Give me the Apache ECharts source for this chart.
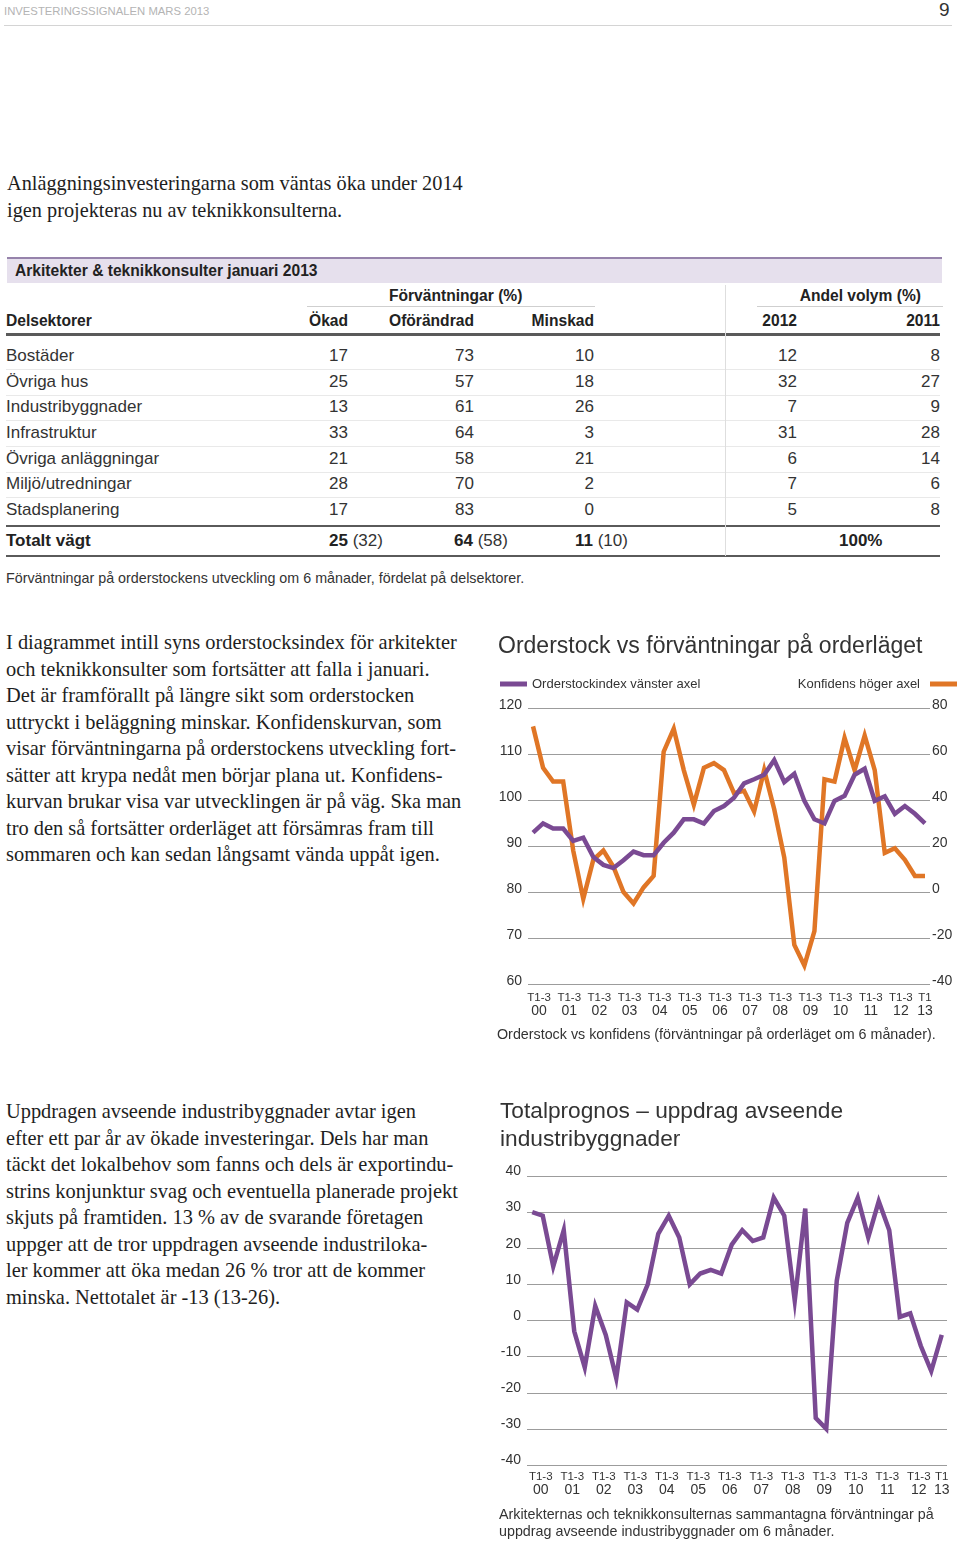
<!DOCTYPE html>
<html><head><meta charset="utf-8">
<script src="https://cdn.jsdelivr.net/npm/echarts@6/dist/echarts.min.js"></script>
<style>
html,body{margin:0;padding:0;background:#fff;}
body{width:960px;height:1541px;position:relative;overflow:hidden;font-family:'Liberation Sans',Arial,sans-serif;color:#333;}
.a{position:absolute;white-space:nowrap;}
.serif{font-family:'Liberation Serif','Times New Roman',serif;color:#1e1e1e;}
.ln{position:absolute;}
.chart{position:absolute;}
</style></head><body>
<div class="a" style="left:4px;top:4px;font-size:11.3px;line-height:14px;color:#b4b4b4;">INVESTERINGSSIGNALEN MARS 2013</div>
<div class="a" style="left:939px;top:-1px;font-size:19px;line-height:22px;color:#333;">9</div>
<div class="ln" style="left:4px;top:25px;width:948px;height:1px;background:#d4d4d4;"></div>

<div class="a serif" style="left:7px;top:170px;font-size:20.3px;line-height:27px;">Anläggningsinvesteringarna som väntas öka under 2014<br>igen projekteras nu av teknikkonsulterna.</div>

<div id="tbl"></div>

<div class="a serif" style="left:6px;top:629px;font-size:20.4px;line-height:26.5px;">I diagrammet intill syns orderstocksindex för arkitekter<br>och teknikkonsulter som fortsätter att falla i januari.<br>Det är framförallt på längre sikt som orderstocken<br>uttryckt i beläggning minskar. Konfidenskurvan, som<br>visar förväntningarna på orderstockens utveckling fort-<br>sätter att krypa nedåt men börjar plana ut. Konfidens-<br>kurvan brukar visa var utvecklingen är på väg. Ska man<br>tro den så fortsätter orderläget att försämras fram till<br>sommaren och kan sedan långsamt vända uppåt igen.</div>

<div class="a serif" style="left:6px;top:1098px;font-size:20.4px;line-height:26.55px;">Uppdragen avseende industribyggnader avtar igen<br>efter ett par år av ökade investeringar. Dels har man<br>täckt det lokalbehov som fanns och dels är exportindu-<br>strins konjunktur svag och eventuella planerade projekt<br>skjuts på framtiden. 13 % av de svarande företagen<br>uppger att de tror uppdragen avseende industriloka-<br>ler kommer att öka medan 26 % tror att de kommer<br>minska. Nettotalet är -13 (13-26).</div>

<div id="c1" class="chart" style="left:480px;top:620px;width:480px;height:430px;"></div>
<div id="c2" class="chart" style="left:480px;top:1090px;width:480px;height:451px;"></div>

<script>
// ---------- table data ----------
const sectors=['Bostäder','Övriga hus','Industribyggnader','Infrastruktur','Övriga anläggningar','Miljö/utredningar','Stadsplanering'];
const okad=[17,25,13,33,21,28,17];
const oforandrad=[73,57,61,64,58,70,83];
const minskad=[10,18,26,3,21,2,0];
const andel2012=[12,32,7,31,6,7,5];
const andel2011=[8,27,9,28,14,6,8];
const totalNow=[25,64,11];
const totalPrev=[32,58,10];

// ---------- chart data ----------
const years=['00','01','02','03','04','05','06','07','08','09','10','11','12','13'];
const tertials=['T1','T2','T3'];
const orderstockIndex=[92.9,94.9,93.8,93.8,91.1,91.8,87.6,85.9,85.2,86.9,88.8,88.0,88.0,90.7,92.9,95.8,95.8,94.9,97.6,98.7,100.5,103.6,104.5,105.5,108.7,103.9,105.7,99.8,95.8,94.9,99.8,100.9,105.5,106.8,99.8,100.8,97.0,98.7,97.0,94.9];
const konfidens=[72,54,48,48,18,-3,14,18,11,0,-5,2,7,61,71,53,38,54,56,53,43,44,35,53,36,15,-23,-32,-17,49,48,67,53,68,53,17,19,14,7,7];
const industri=[30,29,15,25,-3,-13,4,-4,-16,5,3,10,24,29,23,10,13,14,13,21,25,22,23,34,29,5.5,31,-27,-30,11,27,34,23,33,25,1,2,-7,-14,-4];
const leftTicks1={min:60,max:120,interval:10};
const rightTicks1={min:-40,max:80,interval:20};
const ticks2={min:-40,max:40,interval:10};

// ---------- build table ----------
const T=document.getElementById('tbl');
function line(l,t,w,h,c){const d=document.createElement('div');d.className='ln';d.style.cssText=`left:${l}px;top:${t}px;width:${w}px;height:${h}px;background:${c};`;T.appendChild(d);}
function txt(s,cy,size,opt){const d=document.createElement('div');d.className='a';const lh=Math.round(size*1.5);
  let css=`top:${(cy-lh/2).toFixed(1)}px;font-size:${size}px;line-height:${lh}px;`;
  if(opt.left!==undefined)css+=`left:${opt.left}px;`;
  if(opt.right!==undefined)css+=`right:${960-opt.right}px;text-align:right;`;
  if(opt.bold)css+='font-weight:bold;';
  if(opt.color)css+=`color:${opt.color};`;
  d.style.cssText=css;d.innerHTML=s;T.appendChild(d);}

line(7,258,935,25,'#e6e0ed');
line(7,257,935,1.5,'#9683ab');
txt('Arkitekter &amp; teknikkonsulter januari 2013',270,15.6,{left:15,bold:true,color:'#222'});
txt('Förväntningar (%)',295,15.6,{left:389,bold:true,color:'#222'});
txt('Andel volym (%)',295,15.6,{right:921,bold:true,color:'#222'});
line(307,306,288,1,'#cfcfcf');
line(757,306,186,1,'#cfcfcf');
txt('Delsektorer',320,15.6,{left:6,bold:true,color:'#222'});
txt('Ökad',320,15.6,{right:348,bold:true,color:'#222'});
txt('Oförändrad',320,15.6,{left:389,bold:true,color:'#222'});
txt('Minskad',320,15.6,{right:594,bold:true,color:'#222'});
txt('2012',320,15.6,{right:797,bold:true,color:'#222'});
txt('2011',320,15.6,{right:940,bold:true,color:'#222'});
line(6,333,934,2.5,'#5a5a5a');
const rowH=25.67;
for(let i=0;i<sectors.length;i++){
  const cy=356+i*rowH;
  if(i<sectors.length-1) line(6,cy+rowH/2,934,1,'#e9e9e9');
  txt(sectors[i],cy,17,{left:6});
  txt(okad[i],cy,17,{right:348});
  txt(oforandrad[i],cy,17,{right:474});
  txt(minskad[i],cy,17,{right:594});
  txt(andel2012[i],cy,17,{right:797});
  txt(andel2011[i],cy,17,{right:940});
}
line(6,524.5,934,2,'#5a5a5a');
txt('Totalt vägt',541,17,{left:6,bold:true,color:'#222'});
const totLeft=[329,454,575];
for(let k=0;k<3;k++) txt(`<b style="color:#222">${totalNow[k]}</b> (${totalPrev[k]})`,541,17,{left:totLeft[k]});
txt('100%',541,17,{left:839,bold:true,color:'#222'});
line(6,555,934,1.5,'#5a5a5a');
line(725,285,1,271,'#dedede');
txt('Förväntningar på orderstockens utveckling om 6 månader, fördelat på delsektorer.',578,14.3,{left:6});

// ---------- charts ----------
const FF='Liberation Sans';
const PURPLE='#7a4a93', ORANGE='#e07626', GRID='#9c9c9c', TXT='#333';
const cats=[];
for(let y=0;y<years.length;y++) for(let t=0;t<3;t++) if(cats.length<orderstockIndex.length) cats.push(tertials[t]+' '+years[y]);

function xAxisFor(margin,shift){
  const last=cats.length-1;
  return {type:'category',data:cats,boundaryGap:true,axisLine:{show:false},axisTick:{show:false},splitLine:{show:false},
    axisLabel:{margin:margin,hideOverlap:false,interval:0,
      formatter:(v,i)=>{const yy=v.split(' ')[1]; if(!(i%3===1||i===last)) return ''; return i===last?`{c|T1}\n{d|${yy}}`:`{a|T1-3}\n{b|${yy}}`;},
      rich:{a:{fontSize:11.5,lineHeight:13,fontFamily:FF,color:TXT,padding:[0,shift,0,0]},
            b:{fontSize:14,lineHeight:13,fontFamily:FF,color:TXT,padding:[0,shift,0,0]},
            c:{fontSize:11.5,lineHeight:13,fontFamily:FF,color:TXT},
            d:{fontSize:14,lineHeight:13,fontFamily:FF,color:TXT}}}};
}
function gtext(x,y,s,size){return {type:'text',x:x,y:y,style:{text:s,fontSize:size,fontFamily:FF,fill:TXT,textAlign:'left',textVerticalAlign:'middle',align:'left',verticalAlign:'middle'}};}
function yLabel(margin,lift){return {margin:margin,fontSize:14,fontFamily:FF,color:TXT,verticalAlign:'bottom',lineHeight:lift*2};}

const c1=echarts.init(document.getElementById('c1'),null,{renderer:'canvas'});
c1.setOption({
  animation:false,
  grid:{left:48,right:30,top:88,bottom:66},
  legend:[
    {data:['Orderstockindex vänster axel'],left:20,top:57.5,padding:0,icon:'rect',itemWidth:27,itemHeight:5,textStyle:{fontSize:13,fontFamily:FF,color:TXT},selectedMode:false},
    {data:['Konfidens höger axel'],right:3,top:57.5,padding:0,align:'right',icon:'rect',itemWidth:27,itemHeight:5,textStyle:{fontSize:13,fontFamily:FF,color:TXT,padding:[0,5,0,0]},selectedMode:false}
  ],
  xAxis:xAxisFor(7.5,8),
  yAxis:[
    {type:'value',min:leftTicks1.min,max:leftTicks1.max,interval:leftTicks1.interval,axisLine:{show:false},axisTick:{show:false},
     splitLine:{show:true,lineStyle:{color:GRID,width:1}},axisLabel:yLabel(6,3)},
    {type:'value',min:rightTicks1.min,max:rightTicks1.max,interval:rightTicks1.interval,axisLine:{show:false},axisTick:{show:false},
     splitLine:{show:false},axisLabel:yLabel(2,3)}
  ],
  graphic:[
    gtext(18,27,'Orderstock vs förväntningar på orderläget',23),
    gtext(17,415,'Orderstock vs konfidens (förväntningar på orderläget om 6 månader).',14.3)
  ],
  series:[
    {name:'Konfidens höger axel',type:'line',yAxisIndex:1,data:konfidens,symbol:'none',color:ORANGE,lineStyle:{width:4.5,color:ORANGE,join:'miter'}},
    {name:'Orderstockindex vänster axel',type:'line',yAxisIndex:0,data:orderstockIndex,symbol:'none',color:PURPLE,lineStyle:{width:4.5,color:PURPLE,join:'miter'}}
  ]
});

const c2=echarts.init(document.getElementById('c2'),null,{renderer:'canvas'});
c2.setOption({
  animation:false,
  grid:{left:47,right:13,top:86,bottom:76},
  xAxis:xAxisFor(5.5,4),
  yAxis:{type:'value',min:ticks2.min,max:ticks2.max,interval:ticks2.interval,axisLine:{show:false},axisTick:{show:false},
     splitLine:{show:true,lineStyle:{color:GRID,width:1}},axisLabel:yLabel(6,4.5)},
  graphic:[
    gtext(20,22,'Totalprognos – uppdrag avseende',22.7),
    gtext(20,50,'industribyggnader',22.7),
    gtext(19,425,'Arkitekternas och teknikkonsulternas sammantagna förväntningar på',14.3),
    gtext(19,442,'uppdrag avseende industribyggnader om 6 månader.',14.3)
  ],
  series:[
    {name:'Totalprognos',type:'line',data:industri,symbol:'none',color:PURPLE,lineStyle:{width:4.5,color:PURPLE,join:'miter'}}
  ]
});
</script>
</body></html>
